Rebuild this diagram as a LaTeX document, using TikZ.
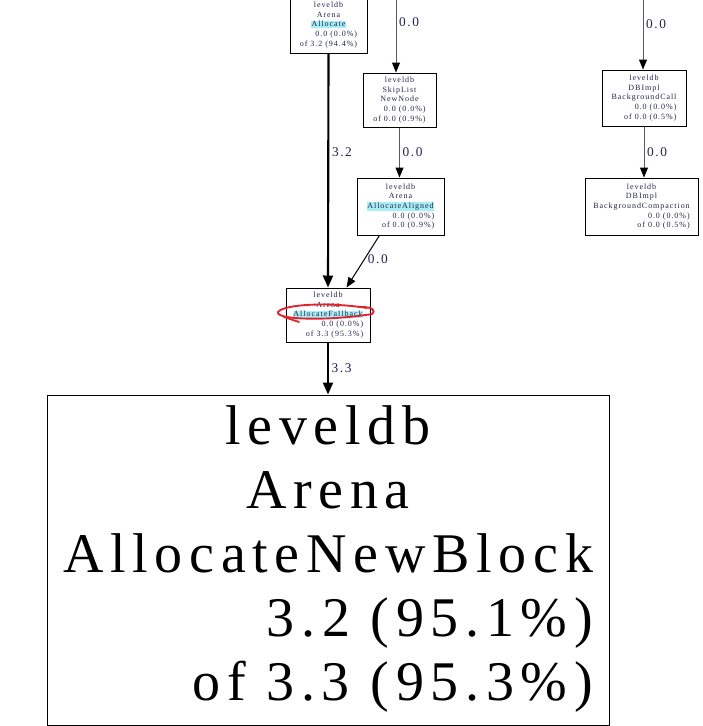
\documentclass[tikz,border=0pt]{standalone}
\usepackage{fontspec}
\setmainfont{Liberation Serif}
\newfontfamily\gvfont[LetterSpace=12]{Liberation Serif}
\usetikzlibrary{arrows.meta,positioning}
\definecolor{HiCyan}{HTML}{A8EEF6}
\definecolor{Ink}{HTML}{22224A}
\definecolor{MarkRed}{HTML}{E0242E}
\definecolor{WireGrey}{HTML}{5A5A5A}

% small function box: package, class, method (highlighted or not), flat, cum
\newcommand{\fnlines}[5]{{\gvfont\fontsize{6.0}{7.2}\selectfont\color{Ink}%
  \begin{tabular}{@{}r@{}}
    \multicolumn{1}{@{}c@{}}{#1}\\
    \multicolumn{1}{@{}c@{}}{#2}\\
    \multicolumn{1}{@{}c@{}}{#3}\\
    #4\\
    #5
  \end{tabular}}}
\newcommand{\hifn}[1]{{\setlength{\fboxsep}{0.5pt}\colorbox{HiCyan}{#1}}}

\begin{document}
\begin{tikzpicture}[
      x=0.75pt,y=-0.75pt,
      fnbox/.style={
        draw,
        line width=0.75pt,
        inner sep=0pt,
        align=center
      },
      wire/.style={
        draw=WireGrey,
        line width=0.75pt,
        -{Triangle[length=7.5pt,width=6pt,color=black]}
      },
      heavywire/.style={
        draw=black,
        line width=1.6pt,
        -{Triangle[length=9pt,width=7.5pt]}
      },
      weight/.style={
        right,
        inner sep=2pt,
        font=\gvfont\fontsize{10}{12}\selectfont,
        text=Ink
      },
      markpen/.style={
        draw=MarkRed,
        line width=1.4pt,
        line cap=round,
        line join=round
      }
    ]
      \useasboundingbox (0,0) rectangle (703,726);

      % function nodes
      \node[fnbox,minimum width=57.75pt,minimum height=42.75pt] (alloc) at (328.5,25)
        {\fnlines{leveldb}{Arena}{\hifn{Allocate}}{0.0 (0.0\%)}{of 3.2 (94.4\%)}};
      \node[fnbox,minimum width=54.75pt,minimum height=40.5pt] (newnode) at (399.5,100)
        {\fnlines{leveldb}{SkipList}{NewNode}{0.0 (0.0\%)}{of 0.0 (0.9\%)}};
      \node[fnbox,minimum width=65.25pt,minimum height=42.75pt] (aligned) at (400.5,206.5)
        {\fnlines{leveldb}{Arena}{\hifn{AllocateAligned}}{0.0 (0.0\%)}{of 0.0 (0.9\%)}};
      \node[fnbox,minimum width=63pt,minimum height=42pt] (bgcall) at (644,98)
        {\fnlines{leveldb}{DBImpl}{BackgroundCall}{0.0 (0.0\%)}{of 0.0 (0.5\%)}};
      \node[fnbox,minimum width=84.75pt,minimum height=42.75pt] (bgcompact) at (641.5,206.5)
        {\fnlines{leveldb}{DBImpl}{BackgroundCompaction}{0.0 (0.0\%)}{of 0.0 (0.5\%)}};
      \node[fnbox,minimum width=63pt,minimum height=40.5pt] (fallback) at (328,315)
        {\fnlines{leveldb}{Arena}{\hifn{AllocateFallback}}{0.0 (0.0\%)}{of 3.3 (95.3\%)}};
      \node[fnbox,minimum width=421.5pt,minimum height=247.5pt] (newblock) at (328,560)
        {{\gvfont\fontsize{42}{48}\selectfont
          \begin{tabular}{@{}r@{}}
            \multicolumn{1}{@{}c@{}}{leveldb}\\
            \multicolumn{1}{@{}c@{}}{Arena}\\
            \multicolumn{1}{@{}c@{}}{AllocateNewBlock}\\
            3.2 (95.1\%)\\
            of 3.3 (95.3\%)
          \end{tabular}}};

      % callers above the cut
      \coordinate (inSkip) at (396,-2);
      \coordinate (inDB) at (643,-2);

      % edges
      \draw[wire] (inSkip) -- (inSkip |- newnode.north)
        node[weight,pos=0.33] (wSkip) {0.0};
      \draw[wire] (inDB) -- (inDB |- bgcall.north)
        node[weight,pos=0.37] (wDB) {0.0};
      \draw[heavywire] (alloc.south) -- (fallback.north)
        node[weight,pos=0.42] (wAlloc) {3.2};
      \draw[wire] (newnode.south) -- (newnode.south |- aligned.north)
        node[weight,pos=0.5] (wNew) {0.0};
      \draw[wire,draw=black] (aligned.234) -- (fallback.56)
        node[weight,pos=0.45] (wAligned) {0.0};
      \draw[wire] (bgcall.south) -- (bgcall.south |- bgcompact.north)
        node[weight,pos=0.5] (wBg) {0.0};
      \draw[heavywire] (fallback.south) -- (newblock.north)
        node[weight,pos=0.49] (wFall) {3.3};

      % hand-drawn mark
      \draw[markpen] (367,308) .. controls (330,302) and (284,304) .. (278,312)
        .. controls (275,320) and (330,321) .. (372,314)
        .. controls (376,311) and (373,307) .. (362,307);
      \draw[markpen] (284,317) -- (299,322);
    \end{tikzpicture}
\end{document}
